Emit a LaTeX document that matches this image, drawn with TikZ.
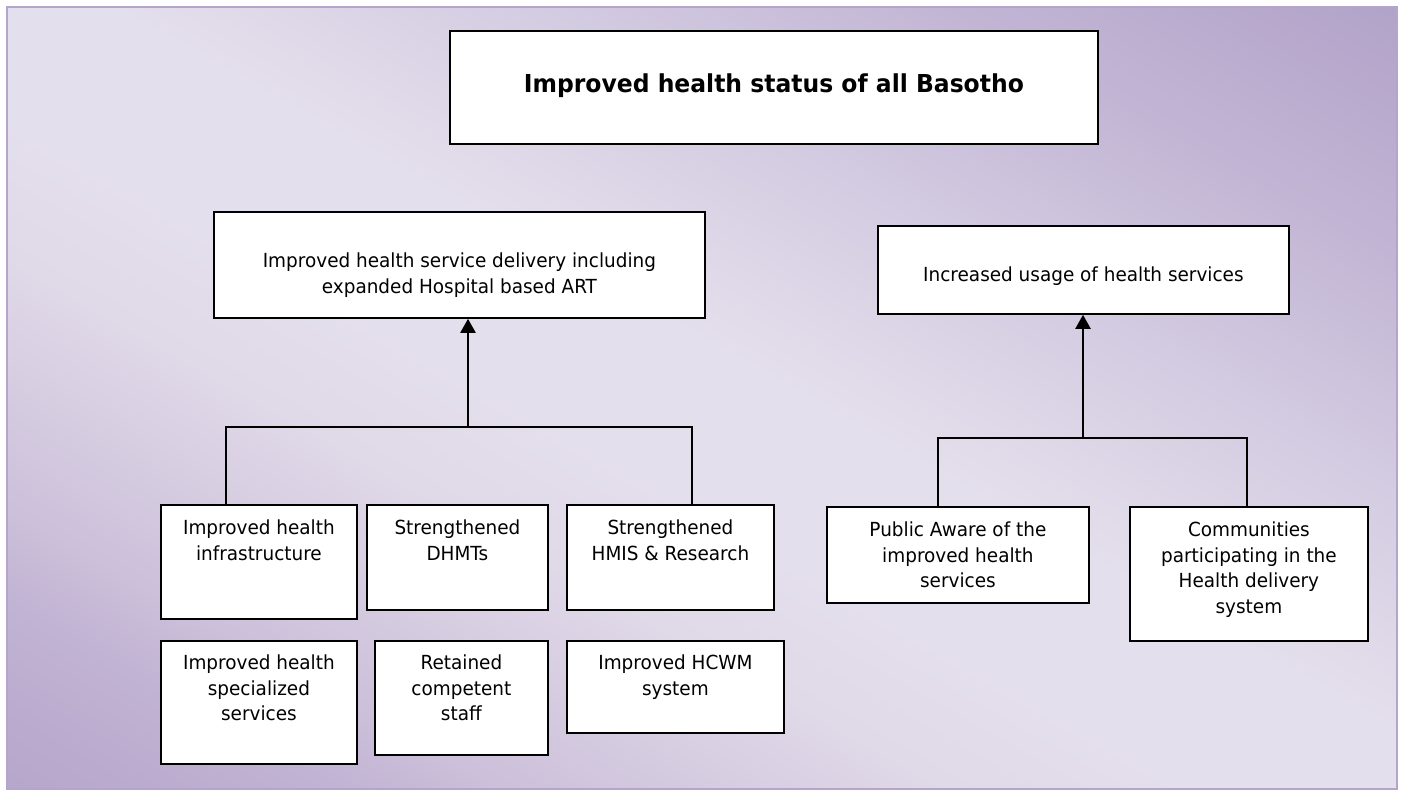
\documentclass[tikz,border=0pt]{standalone}
\usepackage{fontspec}
\setmainfont{DejaVu Sans}[FakeStretch=0.95]
\usetikzlibrary{arrows.meta}

% lavender wash colours, from the lower-left corner to the upper-right corner
\definecolor{wa}{HTML}{B3A4CA}
\definecolor{wb}{HTML}{B5A6CB}
\definecolor{wc}{HTML}{C1B3D3}
\definecolor{wd}{HTML}{CCC0DA}
\definecolor{we}{HTML}{E0D9E8}
\definecolor{wf}{HTML}{E4DFEC}
\definecolor{wg}{HTML}{E4DFEC}
\definecolor{wh}{HTML}{D3CBE1}
\definecolor{wi}{HTML}{C2B5D4}
\definecolor{wj}{HTML}{B1A2C8}
\definecolor{wk}{HTML}{B0A1C8}
\definecolor{framecol}{HTML}{B4A5CC}

\pgfdeclarehorizontalshading{bgwash}{1700bp}{%
  color(0bp)=(wa); color(66bp)=(wb); color(233bp)=(wc); color(315bp)=(wd);
  color(532bp)=(we); color(650bp)=(wf); color(800bp)=(wg); color(1016bp)=(wh);
  color(1212bp)=(wi); color(1437bp)=(wj); color(1500bp)=(wk)}

% text block of a box: width, height, first baseline from the top, lines
\newcommand{\cell}[4]{\parbox[t][#2][t]{#1}{\centering
  \vspace*{\dimexpr#3-0.7\baselineskip\relax}\strut#4}}

\tikzset{
  box/.style={draw=black, line width=1.8pt, fill=white, inner sep=0pt,
    anchor=north west, font=\fontsize{19.4}{25.5}\selectfont},
  link/.style={draw=black, line width=1.8pt},
  uparrow/.style={draw=black, line width=2.2pt,
    -{Triangle[length=14pt,width=15pt]}},
}

\begin{document}
\begin{tikzpicture}[x=1pt, y=-1pt]
\useasboundingbox (0,0) rectangle (1402,790);
\fill[white] (0,0) rectangle (1402,790);

% background panel
\begin{scope}
  \clip (7,7) rectangle (1397,789);
  \node[inner sep=0pt, rotate=60.6] (wash) at (702,398) {\pgfuseshading{bgwash}};
\end{scope}
\draw[framecol, line width=2.5pt] (7,7) rectangle (1397,789);

% goal
\node[box] (goal) at (449,30)
  {\cell{648pt}{113pt}{61pt}{\fontsize{24.7}{30}\selectfont\bfseries Improved health status of all Basotho}};

% outcomes
\node[box] (delivery) at (213,211)
  {\cell{491pt}{106pt}{56pt}{Improved health service delivery including\\expanded Hospital based ART}};
\node[box] (usage) at (877,225)
  {\cell{411pt}{88pt}{56pt}{Increased usage of health services}};

% outputs under service delivery
\node[box] (infra) at (160,504)
  {\cell{196pt}{114pt}{30pt}{Improved health\\infrastructure}};
\node[box] (dhmt) at (366,504)
  {\cell{181pt}{105pt}{30pt}{Strengthened\\DHMTs}};
\node[box] (hmis) at (566,504)
  {\cell{207pt}{105pt}{30pt}{Strengthened\\HMIS \& Research}};
\node[box] (spec) at (160,640)
  {\cell{196pt}{123pt}{29pt}{Improved health\\specialized\\services}};
\node[box] (staff) at (374,640)
  {\cell{173pt}{114pt}{29pt}{Retained\\competent\\staff}};
\node[box] (hcwm) at (566,640)
  {\cell{217pt}{92pt}{29pt}{Improved HCWM\\system}};

% outputs under service usage
\node[box] (aware) at (826,506)
  {\cell{262pt}{96pt}{30pt}{Public Aware of the\\improved health\\services}};
\node[box] (comm) at (1129,506)
  {\cell{238pt}{134pt}{30pt}{Communities\\participating in the\\Health delivery\\system}};

% left tree
\coordinate (lbarL) at (226,427);
\coordinate (lbarR) at (692,427);
\coordinate (ljoin) at (468,427);
\draw[link] (lbarL |- infra.north) -- (lbarL) -- (lbarR) -- (lbarR |- hmis.north);
\draw[uparrow] (ljoin) -- (ljoin |- delivery.south);

% right tree
\coordinate (rbarL) at (938,438);
\coordinate (rbarR) at (1247,438);
\coordinate (rjoin) at (1083,438);
\draw[link] (rbarL |- aware.north) -- (rbarL) -- (rbarR) -- (rbarR |- comm.north);
\draw[uparrow] (rjoin) -- (rjoin |- usage.south);
\end{tikzpicture}
\end{document}
